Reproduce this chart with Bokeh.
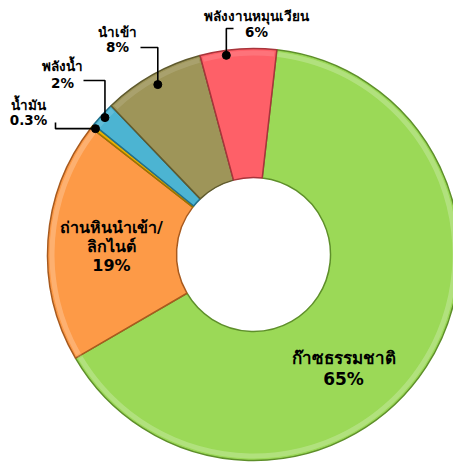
import numpy as np
from bokeh.plotting import figure
from bokeh.models import Range1d
from bokeh.core.properties import value
from bokeh.embed import file_html
from bokeh.resources import INLINE

# ---- data ----
categories = ["ก๊าซธรรมชาติ", "ถ่านหินนำเข้า/ลิกไนต์", "น้ำมัน", "พลังน้ำ", "นำเข้า", "พลังงานหมุนเวียน"]
label_lines = [["ก๊าซธรรมชาติ"], ["ถ่านหินนำเข้า/", "ลิกไนต์"], ["น้ำมัน"], ["พลังน้ำ"], ["นำเข้า"], ["พลังงานหมุนเวียน"]]
shares = [65, 19, 0.3, 2, 8, 6]
pct_labels = ["65%", "19%", "0.3%", "2%", "8%", "6%"]
colors = ["#9BD957", "#FD9A47", "#E8B000", "#4CB4D2", "#9E9559", "#FE6068"]
edge_colors = ["#5E8F2A", "#A85A1E", "#9A7400", "#22708A", "#5F5A2E", "#A8343B"]

W, H = 453, 463
IMG_H = 463
def Y(yimg):
    return IMG_H - yimg

p = figure(width=W, height=H, output_backend="svg", toolbar_location=None,
           x_range=Range1d(0, W), y_range=Range1d(Y(H), Y(0)),
           min_border=0)
p.axis.visible = False
p.grid.visible = False
p.outline_line_color = None
p.background_fill_color = "white"

cx, cy = 253, Y(254)
r_out, r_in = 206, 77
start_deg = 6.5  # clockwise from 12 o'clock

total = sum(shares)
theta = [start_deg]
for s in shares:
    theta.append(theta[-1] + 360.0 * s / total)

def bok(a):
    return np.deg2rad(90.0 - a)

for i in range(len(shares)):
    a0, a1 = theta[i], theta[i + 1]
    p.annular_wedge(x=cx, y=cy, inner_radius=r_in, outer_radius=r_out,
                    start_angle=bok(a0), end_angle=bok(a1), direction="clock",
                    inner_radius_units="screen", outer_radius_units="screen",
                    fill_color=colors[i], line_color=edge_colors[i], line_width=1.5)
    # soft highlight band near the rim
    p.annular_wedge(x=cx, y=cy, inner_radius=r_out - 7, outer_radius=r_out - 2,
                    start_angle=bok(a0 + 0.6), end_angle=bok(a1 - 0.6), direction="clock",
                    inner_radius_units="screen", outer_radius_units="screen",
                    fill_color="white", fill_alpha=0.12, line_color=None)

bold = "bold"
font = value("DejaVu Sans")

def txt(x, y, s, size):
    p.text(x=[x], y=[Y(y)], text=[s], text_font=font, text_font_style=bold,
           text_font_size=f"{size}px", text_align="center", text_baseline="middle",
           text_color="black")

# inside labels
txt(343, 357, label_lines[0][0], 17)
txt(343, 378, pct_labels[0], 17)
txt(111, 227, label_lines[1][0], 16)
txt(111, 246, label_lines[1][1], 16)
txt(111, 265, pct_labels[1], 16)

# outside labels
outside = {
    2: dict(tx=28, ty=[104, 119], elbow=[(55, 127), (55, 122)]),
    3: dict(tx=62, ty=[65, 82], elbow=[(105, 80), (83, 80)]),
    4: dict(tx=117, ty=[31, 46], elbow=[(162, 47), (140, 47)]),
    5: dict(tx=256, ty=[15, 31], elbow=[(225, 28), (233, 28)]),
}
dot_r = {2: 202, 3: 202, 4: 195, 5: 201}
for i, o in outside.items():
    mid = 0.5 * (theta[i] + theta[i + 1])
    if i == 5:
        mid -= 3.5
    dx = cx + dot_r[i] * np.sin(np.deg2rad(mid))
    dy = cy + dot_r[i] * np.cos(np.deg2rad(mid))
    xs = [dx] + [e[0] for e in o["elbow"]]
    ys = [dy] + [Y(e[1]) for e in o["elbow"]]
    if i in (3, 4, 5):
        xs[1] = dx
    if i == 2:
        ys[1] = dy
    p.line(xs, ys, line_color="black", line_width=1.6)
    p.scatter([dx], [dy], size=8, fill_color="black", line_color="black")
    txt(o["tx"], o["ty"][0], label_lines[i][0], 13.5)
    txt(o["tx"], o["ty"][1], pct_labels[i], 13.5)

open("out.html", "w").write(file_html(p, INLINE))
